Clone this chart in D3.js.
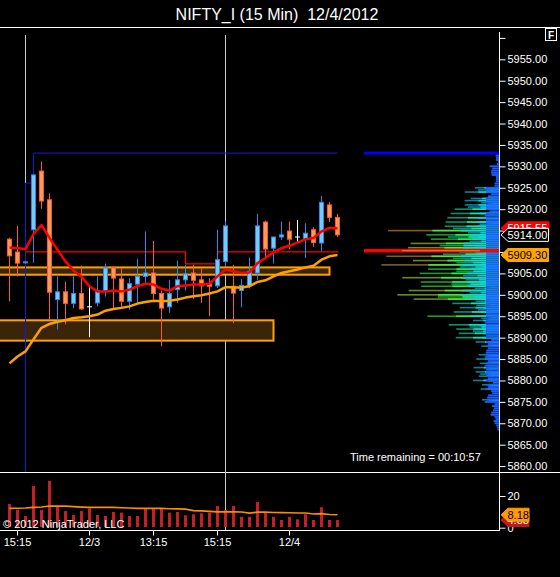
<!DOCTYPE html>
<html><head><meta charset="utf-8">
<script src="https://cdn.jsdelivr.net/npm/d3@7"></script>
<style>
html,body{margin:0;padding:0;background:#000;}
svg{display:block;font-family:"Liberation Sans",Arial,sans-serif;}
</style></head><body>
<svg id="chart" width="560" height="577"></svg>
<script>
// ---------------- DATA ----------------
const title = "NIFTY_I (15 Min)  12/4/2012";
const barTimes = [
 "11/30 15:00","11/30 15:15","11/30 15:30","11/30 15:45","11/30 16:00","11/30 16:15","11/30 16:30","11/30 16:45","11/30 17:00","11/30 17:15",
 "12/3 11:15","12/3 11:30","12/3 11:45","12/3 12:00","12/3 12:15","12/3 12:30","12/3 12:45","12/3 13:00","12/3 13:15","12/3 13:30",
 "12/3 13:45","12/3 14:00","12/3 14:15","12/3 14:30","12/3 14:45","12/3 15:00","12/3 15:15","12/3 15:30","12/3 15:45","12/3 16:00",
 "12/3 16:15","12/3 16:30","12/3 16:45","12/3 17:00","12/3 17:15","12/4 11:15","12/4 11:30","12/4 11:45","12/4 12:00","12/4 12:15",
 "12/4 12:30","12/4 12:45"];
const opens  = [5913.0,5910.0,5907.5,5915.2,5928.9,5922.2,5898.9,5900.7,5898.0,5900.3,
                5897.2,5898.1,5901.0,5906.3,5903.7,5898.5,5902.5,5904.3,5905.1,5900.3,
                5897.2,5901.2,5903.5,5905.1,5903.5,5902.6,5902.1,5907.8,5902.0,5901.0,
                5902.1,5905.1,5917.0,5910.9,5913.5,5914.9,5913.5,5913.1,5915.2,5912.1,
                5921.0,5918.1];
const highs  = [5913.3,5916.1,5907.9,5928.2,5931.1,5923.7,5904.3,5903.1,5904.3,5906.8,
                5902.1,5904.3,5907.3,5906.7,5906.3,5903.9,5908.4,5914.8,5912.6,5901.0,
                5903.5,5908.0,5907.0,5907.0,5906.3,5903.9,5915.2,5917.1,5907.0,5903.7,
                5908.7,5918.9,5917.3,5913.6,5917.1,5917.1,5917.5,5916.7,5915.8,5923.1,
                5921.7,5918.9];
const lows   = [5898.5,5904.3,5907.3,5907.5,5920.1,5894.2,5891.9,5893.1,5896.9,5896.5,
                5890.1,5897.3,5899.6,5896.9,5896.9,5896.5,5898.1,5902.5,5898.9,5888.0,
                5895.8,5898.1,5901.0,5899.0,5898.1,5895.0,5901.6,5906.6,5893.4,5897.1,
                5901.5,5903.5,5908.6,5907.3,5912.8,5910.7,5912.2,5908.6,5911.2,5910.1,
                5917.0,5913.5];
const closes = [5909.1,5907.4,5907.7,5928.0,5921.9,5900.6,5900.7,5898.0,5900.3,5896.7,
                5897.2,5901.0,5906.3,5903.9,5898.5,5902.6,5904.3,5905.1,5900.3,5896.9,
                5900.3,5903.5,5904.9,5903.4,5902.1,5902.0,5908.2,5916.1,5900.4,5902.2,
                5905.5,5916.1,5910.7,5913.5,5914.0,5913.0,5913.5,5914.4,5912.2,5921.6,
                5918.1,5914.0];
const emaFast = [5911.05,5910.9,5910.7,5914.2,5916.3,5913.3,5910.5,5907.8,5905.7,5904.2,
                 5902.0,5900.8,5900.8,5901.0,5900.8,5901.2,5902.0,5902.6,5902.4,5901.4,
                 5901.0,5902.0,5902.2,5902.4,5902.4,5902.6,5904.3,5905.9,5905.5,5905.1,
                 5905.2,5907.4,5908.6,5909.9,5910.9,5911.45,5912.2,5913.0,5913.25,5914.8,
                 5915.6,5915.55];
const emaSlow = [5884.0,5885.6,5886.8,5889.6,5892.3,5893.2,5893.7,5894.05,5894.6,5894.75,
                 5895.0,5895.4,5896.3,5896.7,5896.95,5897.3,5897.95,5898.3,5898.6,5898.5,
                 5898.6,5898.9,5899.35,5899.65,5899.9,5900.3,5900.8,5901.8,5901.7,5901.7,
                 5902.0,5903.0,5903.4,5904.3,5905.1,5905.5,5905.9,5906.4,5906.8,5908.2,
                 5909.0,5909.3];
const volumes = [15.0,11.2,7.4,26.3,11.2,29.5,13.2,10.5,8.0,10.5,
                 12.2,8.0,7.4,9.9,9.5,7.4,7.4,12.2,12.2,12.2,
                 9.5,9.9,7.8,8.5,9.1,9.5,13.7,11.2,13.7,6.9,
                 6.9,16.2,9.5,6.9,4.9,6.9,5.3,8.5,4.9,12.9,
                 4.9,4.83];
const volumeMA = [12.2,12.3,12.4,12.8,13.1,13.7,13.6,13.6,13.3,13.0,
                  12.8,12.8,12.8,12.8,12.6,12.4,12.2,12.2,12.2,12.2,
                  12.0,11.9,11.7,10.8,10.6,10.3,10.0,10.0,10.0,9.9,
                  9.2,9.8,9.8,9.6,9.5,9.4,9.3,9.3,8.6,8.9,
                  8.3,8.18];
const priceTicks = [5860,5865,5870,5875,5880,5885,5890,5895,5900,5905,5910,5915,5920,5925,5930,5935,5940,5945,5950,5955,5960];
const volumeTicks = [0,20];
const xTickIdx = [1,10,18,26,35];
const xTickText = ["15:15","12/3","13:15","15:15","12/4"];
const sessionLines = [2,27];
const zones = [
  {top:5906.4, bottom:5904.7, endIdx:40},
  {top:5894.05, bottom:5889.3, endIdx:33}
];
const redStep = [
  {from:2, to:22, price:5910.05},
  {from:22, to:26, price:5907.25},
  {from:26, to:41, price:5910.05}
];
const blueStep = [
  {from:2, to:3, price:5926.1},
  {from:3, to:41, price:5933.1}
];
// volume profile (rows every 0.5 point from the top level downward)
const profileTopPrice = 5933;
const profileStep = 0.5;
const profileVolumes = [3,3.3,3,3,1,2,9.3,6.7,7.7,7.7,
  7.3,3,3,3,4.3,4.3,24.3,21,34.3,7.7,
  11,28.3,34.3,17.7,34.3,31,44.3,9.3,48.3,14.3,
  51.7,12.7,53.3,19.3,54.3,46,111,31,72.7,51,
  68.3,29.3,88.3,59.3,91,135,40,56,112.7,46,
  86,42.7,117.7,39.3,71,42.7,79.3,36,96.7,33.3,
  78.3,47.7,77.7,24.3,90.3,29.3,101.7,61,85.3,23.3,
  46.7,22.7,39.3,21,45.3,12.7,71.7,17.7,26,14.3,
  50.3,29.3,42.7,26,40.3,12.7,43.3,7.7,23.3,11,
  17.7,11,12.7,13.3,20.3,14.3,22.7,11,19.3,14.3,
  25.3,12.7,23.3,18.7,20.3,11,26,6,17,11,
  18.3,7.7,6.7,11,11.7,17,14.3,4.3,7,5,
  6,7.7,8.3,4.3,3.3,5.3,4.3,2.7,2,1.3];
const profileHigh = 5933.1;
const pocPrice = 5910.3;
const timeRemaining = "Time remaining = 00:10:57";
const copyright = "\u00a9 2012 NinjaTrader, LLC";

// ---------------- DRAW ----------------
const FS = 11;
const svg = d3.select("#chart");
svg.append("rect").attr("width",560).attr("height",577).attr("fill","#000");

const n = barTimes.length;
const x = d3.scaleBand().domain(d3.range(n)).range([5.5, 341.5]);
const cx = i => x(i) + x.bandwidth()/2;
const y = d3.scaleLinear().domain([5860,5960]).range([466.1,37.9]);
const yv = d3.scaleLinear().domain([0,20]).range([527.7,496]);
const xp = d3.scaleLinear().domain([0,135]).range([499,364]);

// title
svg.append("text").attr("x",277).attr("y",19.5).attr("text-anchor","middle")
  .attr("fill","#fff").attr("font-size",16).style("white-space","pre").text(title);

// frame lines
svg.append("line").attr("x1",0).attr("x2",560).attr("y1",27.5).attr("y2",27.5).attr("stroke","#fff");
svg.append("line").attr("x1",0).attr("x2",560).attr("y1",472.5).attr("y2",472.5).attr("stroke","#fff");
svg.append("line").attr("x1",0).attr("x2",500).attr("y1",530.5).attr("y2",530.5).attr("stroke","#fff");
svg.append("line").attr("x1",499.5).attr("x2",499.5).attr("y1",32).attr("y2",531).attr("stroke","#fff");

// F box
svg.append("rect").attr("x",545.5).attr("y",28.5).attr("width",11).attr("height",12)
  .attr("fill","#000").attr("stroke","#fff");
svg.append("text").attr("x",551).attr("y",38.5).attr("text-anchor","middle").attr("fill","#fff")
  .attr("font-size",10).attr("font-weight","bold").text("F");

const price = svg.append("g");

// session lines
sessionLines.forEach((si,k) => {
  price.append("line").attr("x1",cx(si)).attr("x2",cx(si)).attr("y1",35)
    .attr("y2", k===0 ? 472 : 530).attr("stroke","#c8c8c8").attr("stroke-width",1);
});

// zones
zones.forEach(z => {
  price.append("rect").attr("x",-3).attr("y",y(z.top))
    .attr("width", cx(z.endIdx) + 3).attr("height", y(z.bottom)-y(z.top))
    .attr("fill","#3a2508").attr("stroke","#ffa200").attr("stroke-width",2);
});

// blue range line
{
  const p = d3.path();
  p.moveTo(cx(blueStep[0].from), 472);
  blueStep.forEach(s => { p.lineTo(cx(s.from), y(s.price)); p.lineTo(cx(s.to), y(s.price)); });
  price.append("path").attr("d",p.toString()).attr("fill","none").attr("stroke","#1818dc").attr("stroke-width",1);
}
// red step line
{
  const p = d3.path();
  redStep.forEach((s,k) => { if(k===0) p.moveTo(cx(s.from), y(s.price)); else p.lineTo(cx(s.from), y(s.price)); p.lineTo(cx(s.to)+ (k===redStep.length-1?1:0), y(s.price)); });
  price.append("path").attr("d",p.toString()).attr("fill","none").attr("stroke","#ff0000").attr("stroke-width",1.3);
}

// candles
const idx = d3.range(n);
const bull = "#2a8ce8", bullFill="#7cc8f4", bear="#ff5a20", bearFill="#fa9a5c";
idx.forEach(i => {
  const o=opens[i], c=closes[i], h=highs[i], l=lows[i];
  const doji = Math.abs(o-c) < 0.05;
  const col = doji ? "#fff" : (c>o ? bull : bear);
  price.append("line").attr("x1",cx(i)).attr("x2",cx(i)).attr("y1",y(h)).attr("y2",y(l))
    .attr("stroke",col).attr("stroke-width",1);
  if (doji) {
    price.append("line").attr("x1",cx(i)-2.5).attr("x2",cx(i)+2.5).attr("y1",y(o)).attr("y2",y(o))
      .attr("stroke","#fff").attr("stroke-width",1);
  } else {
    const top = y(Math.max(o,c)), bot = y(Math.min(o,c));
    price.append("rect").attr("x",cx(i)-2).attr("width",4).attr("y",top).attr("height",Math.max(1,bot-top))
      .attr("fill", c>o ? bullFill : bearFill).attr("stroke",col).attr("stroke-width",1);
  }
});

// EMAs
const lineGen = arr => d3.line().x((d,i)=>cx(i)).y(d=>y(d)).curve(d3.curveLinear)(arr);
price.append("path").attr("d",lineGen(emaSlow)).attr("fill","none").attr("stroke","#ffa000").attr("stroke-width",2.5).attr("stroke-linejoin","round");
price.append("path").attr("d",lineGen(emaFast)).attr("fill","none").attr("stroke","#ff0000").attr("stroke-width",2.5).attr("stroke-linejoin","round");

// volume profile
const prof = svg.append("g");
function outerCol(L){ if(L<16) return "#1a5ae6"; if(L<40) return "#0a8296"; if(L<60) return "#0b9070"; if(L<85) return "#1f9a2a"; if(L<105) return "#6a8a20"; return "#7a6018"; }
function innerCol(L){ if(L<16) return "#1a5cff"; if(L<40) return "#14c8e4"; if(L<60) return "#18e0a8"; if(L<85) return "#28ee40"; return "#40f030"; }
profileVolumes.forEach((v,k) => {
  const p = profileTopPrice - k*profileStep;
  const yy = y(p) - 0.8;
  const seg = (len,col) => prof.append("rect").attr("x",xp(len)).attr("y",yy).attr("width",499-xp(len)).attr("height",1.6).attr("fill",col);
  seg(v, outerCol(v));
  if (v>=16) {
    seg(v*0.6, innerCol(v));
    seg(Math.min(v*0.4, 38), "#10d4e6");
  }
  seg(Math.min(v, 13), "#1a5cff");
});
// session high marker and POC
prof.append("rect").attr("x",xp(135)).attr("y",y(profileHigh)-1.5).attr("width",499-xp(135)).attr("height",3).attr("fill","#0000ff");
prof.append("rect").attr("x",xp(135)).attr("y",y(pocPrice)-1.75).attr("width",499-xp(135)).attr("height",3.5).attr("fill","#ff0000");
prof.append("rect").attr("x",xp(97)).attr("y",y(pocPrice)-0.5).attr("width",xp(19)-xp(97)).attr("height",1).attr("fill","#ff8a00");

// volume bars
const vol = svg.append("g");
idx.forEach(i => {
  vol.append("rect").attr("x",cx(i)-1.5).attr("width",3).attr("y",yv(volumes[i])).attr("height",yv(0)-yv(volumes[i])-0.7)
    .attr("fill","#c21f26");
});
vol.append("path").attr("d", d3.line().x((d,i)=>cx(i)).y(d=>yv(d))(volumeMA))
  .attr("fill","none").attr("stroke","#ff8c00").attr("stroke-width",1.6);

// axes
function styleAxis(g){
  g.select(".domain").remove();
  g.selectAll(".tick line").attr("stroke","#fff");
  g.selectAll(".tick text").attr("fill","#fff").attr("font-size",FS).attr("font-family","Liberation Sans, Arial, sans-serif");
}
svg.append("g").attr("transform","translate(499.5,0)")
  .call(d3.axisRight(y).tickValues(priceTicks).tickSize(6).tickPadding(2).tickFormat(d => d===5960 ? "" : d.toFixed(2)))
  .call(styleAxis);
svg.append("g").attr("transform","translate(499.5,0)")
  .call(d3.axisRight(yv).tickValues(volumeTicks).tickSize(6).tickPadding(2).tickFormat(d3.format("d")))
  .call(styleAxis);
svg.append("g").attr("transform","translate(0,530.5)")
  .call(d3.axisBottom(x).tickValues(xTickIdx).tickSize(5).tickPadding(3).tickFormat(d => xTickText[xTickIdx.indexOf(d)]))
  .call(styleAxis);

// value markers
function marker(yc, label, fill, stroke, textCol, right){
  const g = svg.append("g");
  const pts = [[501,yc],[508,yc-6.5],[right,yc-6.5],[right,yc+6.5],[508,yc+6.5]];
  g.append("path").attr("d","M"+pts.map(p=>p.join(",")).join("L")+"Z")
    .attr("fill",fill).attr("stroke",stroke).attr("stroke-width",1);
  g.append("text").attr("x",507.5).attr("y",yc).attr("dy","0.36em").attr("fill",textCol)
    .attr("font-size",FS).text(label);
}
marker(y(emaFast[n-1]), emaFast[n-1].toFixed(2), "#ff0000", "#ff0000", "#fff", 549);
marker(y(closes[n-1]), closes[n-1].toFixed(2), "#000", "#fff", "#fff", 548.5);
marker(y(emaSlow[n-1]), emaSlow[n-1].toFixed(2), "#ffa500", "#ffa500", "#000", 548.5);
marker(yv(volumes[n-1]), volumes[n-1].toFixed(2), "#b81c22", "#b81c22", "#fff", 529);
marker(yv(volumeMA[n-1]), volumeMA[n-1].toFixed(2), "#ff9a00", "#ff9a00", "#000", 529);

// texts
svg.append("text").attr("x",350).attr("y",457.5).attr("dy","0.35em").attr("fill","#fff")
  .attr("font-size",FS).text(timeRemaining);
svg.append("text").attr("x",3).attr("y",524.5).attr("dy","0.35em").attr("fill","#fff")
  .attr("font-size",FS).text(copyright);
</script>
</body></html>
